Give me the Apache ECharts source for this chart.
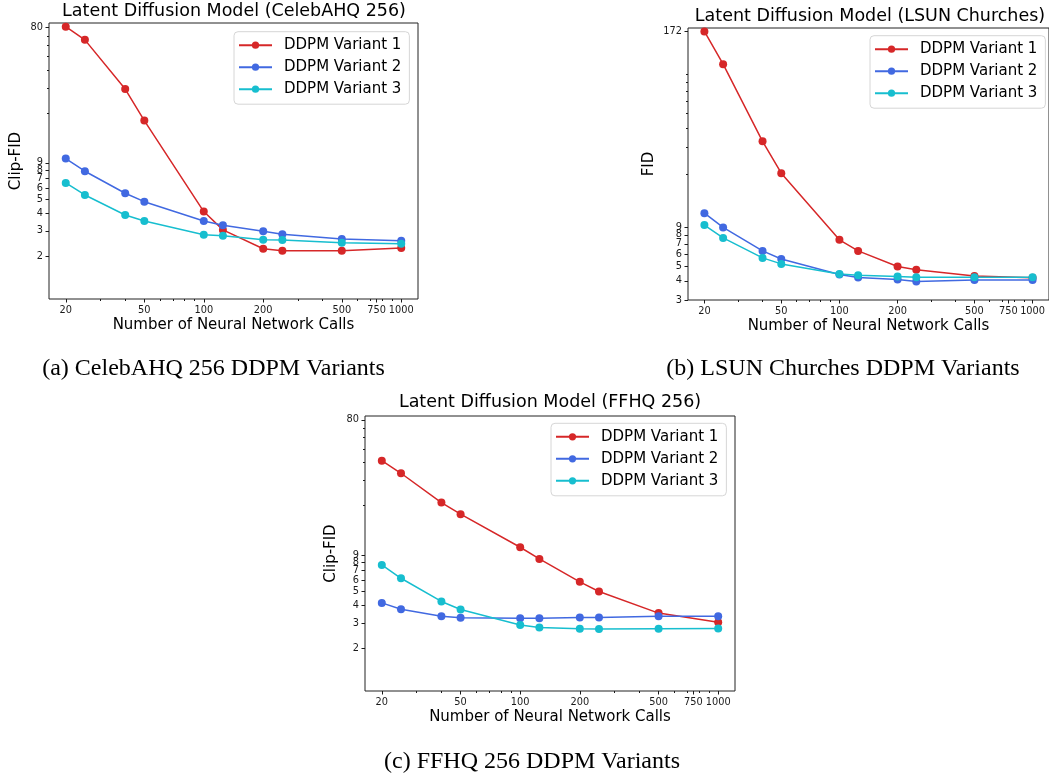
<!DOCTYPE html>
<html><head><meta charset="utf-8">
<script src="https://cdn.jsdelivr.net/npm/echarts@6.0.0/dist/echarts.min.js"></script>
<style>html,body{margin:0;padding:0;background:#fff}#chart{width:1049px;height:776px}</style>
</head><body><div id="chart"></div>
<script>
// ---- data ----
const calls = [20, 25, 40, 50, 100, 125, 200, 250, 500, 1000];
const seriesNames = ['DDPM Variant 1', 'DDPM Variant 2', 'DDPM Variant 3'];

const celebV1 = [81, 65.5, 29.6, 17.8, 4.1, 3.05, 2.25, 2.18, 2.18, 2.28];
const celebV2 = [9.64, 7.86, 5.51, 4.81, 3.52, 3.29, 2.98, 2.84, 2.63, 2.56];
const celebV3 = [6.51, 5.36, 3.88, 3.52, 2.82, 2.77, 2.60, 2.59, 2.48, 2.44];

const lsunV1 = [172, 105, 32.8, 20.3, 7.43, 6.29, 4.97, 4.73, 4.30, 4.19];
const lsunV2 = [11.1, 8.96, 6.29, 5.57, 4.40, 4.21, 4.08, 3.97, 4.05, 4.05];
const lsunV3 = [9.28, 7.65, 5.66, 5.17, 4.44, 4.35, 4.27, 4.23, 4.23, 4.23];

const ffhqV1 = [41.3, 33.7, 21.0, 17.4, 10.2, 8.44, 5.83, 4.99, 3.52, 3.04];
const ffhqV2 = [4.15, 3.75, 3.35, 3.26, 3.24, 3.24, 3.28, 3.28, 3.35, 3.35];
const ffhqV3 = [7.66, 6.18, 4.25, 3.73, 2.90, 2.79, 2.73, 2.72, 2.73, 2.74];

const xTickLabels = [20, 50, 100, 200, 500, 750, 1000];
const xMinorTicks = [30, 40, 60, 70, 80, 90, 300, 400, 600, 700, 800, 900];
const celebYTicks = [2, 3, 4, 5, 6, 7, 8, 9, 80];
const celebYMinor = [20, 30, 40, 50, 60, 70];
const lsunYTicks = [3, 4, 5, 6, 7, 8, 9, 172];
const lsunYMinor = [20, 30, 40, 50, 60, 70, 80, 90];
const ffhqYTicks = [2, 3, 4, 5, 6, 7, 8, 9, 80];
const ffhqYMinor = [20, 30, 40, 50, 60, 70];

const panelTitles = ['Latent Diffusion Model (CelebAHQ 256)', 'Latent Diffusion Model (LSUN Churches)', 'Latent Diffusion Model (FFHQ 256)'];
const yNames = ['Clip-FID', 'FID', 'Clip-FID'];
const xName = 'Number of Neural Network Calls';
const captions = ['(a) CelebAHQ 256 DDPM Variants', '(b) LSUN Churches DDPM Variants', '(c) FFHQ 256 DDPM Variants'];
const colors = ['#d62728', '#4169e1', '#17becf'];

// ---- layout ----
const SANS = 'DejaVu Sans';
const SERIF = 'Liberation Serif';
const panels = [
  { grid: {left: 49, top: 23, width: 369, height: 276}, yRange: [1, 86], yTicks: celebYTicks, yMinor: celebYMinor,
    values: [celebV1, celebV2, celebV3], yNameGap: 25, legend: {left: 234, top: 31.7},
    title: {x: 234, y: 11.5}, caption: {x: 213.5, y: 369} },
  { grid: {left: 688, top: 28, width: 364, height: 272}, yRange: [3, 181], yTicks: lsunYTicks, yMinor: lsunYMinor,
    values: [lsunV1, lsunV2, lsunV3], yNameGap: 31, legend: {left: 870, top: 35.7},
    title: {x: 870, y: 16.3}, caption: {x: 843, y: 369} },
  { grid: {left: 365, top: 416, width: 370, height: 275}, yRange: [1, 85], yTicks: ffhqYTicks, yMinor: ffhqYMinor,
    values: [ffhqV1, ffhqV2, ffhqV3], yNameGap: 26, legend: {left: 551, top: 423.3},
    title: {x: 550, y: 402.5}, caption: {x: 532, y: 762} }
];
const xRange = [16.45, 1216];
const tickColor = '#1a1a1a';

const grids = [], xAxes = [], yAxes = [], series = [], legends = [], graphics = [];
panels.forEach((p, i) => {
  grids.push(Object.assign({show: true, borderColor: '#222', borderWidth: 1, backgroundColor: 'transparent'}, p.grid));
  xAxes.push({
    type: 'log', logBase: 10, gridIndex: i, position: 'bottom', min: xRange[0], max: xRange[1],
    axisLine: {show: false}, splitLine: {show: false}, minorTick: {show: false},
    axisTick: {show: true, customValues: xTickLabels, length: 3.5, lineStyle: {color: tickColor, width: 1}},
    axisLabel: {customValues: xTickLabels, formatter: v => String(Math.round(v)), fontSize: 9.8, fontFamily: SANS, color: tickColor, margin: 6},
    name: xName, nameLocation: 'middle', nameGap: 19,
    nameTextStyle: {fontSize: 15, fontFamily: SANS, color: '#000'}
  });
  xAxes.push({
    type: 'log', logBase: 10, gridIndex: i, position: 'bottom', min: xRange[0], max: xRange[1],
    axisLine: {show: false}, splitLine: {show: false},
    axisTick: {show: true, customValues: xMinorTicks, length: 2, lineStyle: {color: tickColor, width: 1}},
    axisLabel: {show: false, customValues: xMinorTicks}
  });
  yAxes.push({
    type: 'log', logBase: 10, gridIndex: i, position: 'left', min: p.yRange[0], max: p.yRange[1],
    axisLine: {show: false}, splitLine: {show: false}, minorTick: {show: false},
    axisTick: {show: true, customValues: p.yTicks, length: 3.5, lineStyle: {color: tickColor, width: 1}},
    axisLabel: {customValues: p.yTicks, formatter: v => String(Math.round(v)), fontSize: 9.8, fontFamily: SANS, color: tickColor, margin: 6},
    name: yNames[i], nameLocation: 'middle', nameGap: p.yNameGap,
    nameTextStyle: {fontSize: 15, fontFamily: SANS, color: '#000'}
  });
  yAxes.push({
    type: 'log', logBase: 10, gridIndex: i, position: 'left', min: p.yRange[0], max: p.yRange[1],
    axisLine: {show: false}, splitLine: {show: false},
    axisTick: {show: true, customValues: p.yMinor, length: 2, lineStyle: {color: tickColor, width: 1}},
    axisLabel: {show: false, customValues: p.yMinor}
  });
  p.values.forEach((vals, j) => {
    series.push({
      type: 'line', name: seriesNames[j], xAxisIndex: 2 * i, yAxisIndex: 2 * i,
      data: calls.map((c, k) => [c, vals[k]]),
      symbol: 'circle', symbolSize: 8, showSymbol: true,
      lineStyle: {width: 1.5, color: colors[j]}, itemStyle: {color: colors[j]},
      emphasis: {disabled: true}, animation: false
    });
  });
  legends.push({
    orient: 'vertical', left: p.legend.left, top: p.legend.top, data: seriesNames,
    itemWidth: 33, itemHeight: 9, itemGap: 7, padding: [6, 8, 7.5, 4],
    borderColor: '#d6d6d6', borderWidth: 1, borderRadius: 4, backgroundColor: 'rgba(255,255,255,0.8)',
    selectedMode: false,
    textStyle: {fontSize: 15, fontFamily: SANS, color: '#000', padding: [0, 0, 0, 7]}
  });
  graphics.push({
    type: 'text', x: p.title.x, y: p.title.y,
    style: {text: panelTitles[i], fontSize: 17.5, fontFamily: SANS, fill: '#000', align: 'center', verticalAlign: 'middle'}
  });
  graphics.push({
    type: 'text', x: p.caption.x, y: p.caption.y,
    style: {text: captions[i], fontSize: 24, fontFamily: SERIF, fill: '#000', align: 'center', verticalAlign: 'middle'}
  });
});

const chart = echarts.init(document.getElementById('chart'), null, {renderer: 'canvas'});
chart.setOption({
  animation: false,
  backgroundColor: '#fff',
  grid: grids, xAxis: xAxes, yAxis: yAxes, series: series, legend: legends, graphic: graphics
});
</script></body></html>
